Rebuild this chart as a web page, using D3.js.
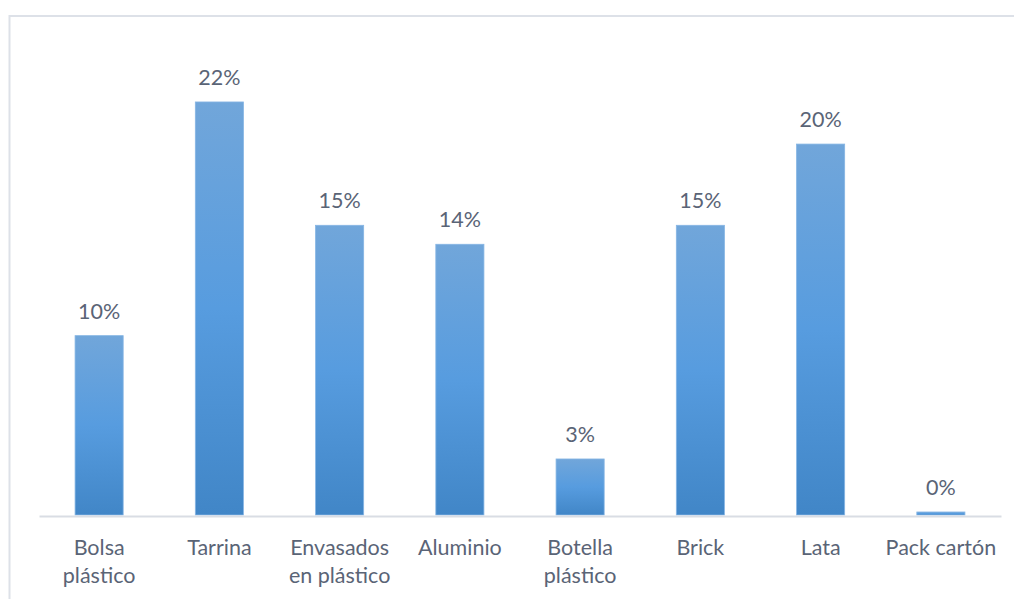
<!DOCTYPE html>
<html>
<head>
<meta charset="utf-8">
<script src="https://cdn.jsdelivr.net/npm/d3@7"></script>
<style>
  html, body { margin: 0; padding: 0; background: #ffffff; }
  svg { display: block; }
  text { font-family: Lato, "Open Sans", sans-serif; fill: #5a6476; }
</style>
</head>
<body>
<svg id="chart" width="1014" height="599"></svg>
<script>
// Share of each packaging type
const categories = [
  ["Bolsa", "plástico"],
  ["Tarrina"],
  ["Envasados", "en plástico"],
  ["Aluminio"],
  ["Botella", "plástico"],
  ["Brick"],
  ["Lata"],
  ["Pack cartón"]
];
const shares = [0.0954, 0.2197, 0.1541, 0.1440, 0.0298, 0.1541, 0.1973, 0.0016];

const svg = d3.select("#chart");
const W = 1014, H = 599;
const plot = { left: 39, right: 1001, top: 45, bottom: 515 };
const fontSize = 21.5;

// Outer chart frame (runs past the right and bottom edges)
svg.append("rect")
  .attr("x", 9.5).attr("y", 16)
  .attr("width", W + 20).attr("height", H + 20)
  .attr("fill", "none")
  .attr("stroke", "#dde1e8")
  .attr("stroke-width", 2);

// Vertical gradient for the bars
const defs = svg.append("defs");
const grad = defs.append("linearGradient")
  .attr("id", "barFill")
  .attr("x1", 0).attr("y1", 0).attr("x2", 0).attr("y2", 1);
grad.append("stop").attr("offset", "0%").attr("stop-color", "#71a6da");
grad.append("stop").attr("offset", "50%").attr("stop-color", "#579cdf");
grad.append("stop").attr("offset", "100%").attr("stop-color", "#4186c7");

const keys = categories.map(c => c.join(" "));

const x = d3.scaleBand()
  .domain(keys)
  .range([plot.left, plot.right])
  .paddingInner(0.6)
  .paddingOuter(0.3);

const y = d3.scaleLinear()
  .domain([0, 0.25])
  .range([plot.bottom, plot.top]);

const data = keys.map((k, i) => ({ key: k, lines: categories[i], value: shares[i] }));

// Bars
svg.append("g")
  .selectAll("rect")
  .data(data)
  .join("rect")
  .attr("x", d => x(d.key))
  .attr("y", d => y(d.value))
  .attr("width", x.bandwidth())
  .attr("height", d => y(0) - y(d.value))
  .attr("fill", "url(#barFill)")
  .attr("stroke", "#86b5e4")
  .attr("stroke-width", 0.8);

// Category axis line
const axis = d3.axisBottom(x).tickSize(0).tickFormat("");
const gAxis = svg.append("g")
  .attr("transform", `translate(0,${y(0) + 1})`)
  .call(axis);
gAxis.select(".domain")
  .attr("stroke", "#d9dde4")
  .attr("stroke-width", 2);

// Category labels (wrapped onto two lines where needed)
const labels = svg.append("g")
  .selectAll("text")
  .data(data)
  .join("text")
  .attr("text-anchor", "middle")
  .attr("font-size", fontSize)
  .attr("x", d => x(d.key) + x.bandwidth() / 2)
  .attr("y", 555);
labels.selectAll("tspan")
  .data(d => d.lines.map(l => ({ l, cx: x(d.key) + x.bandwidth() / 2 })))
  .join("tspan")
  .attr("x", t => t.cx)
  .attr("dy", (t, i) => i === 0 ? 0 : 27.5)
  .text(t => t.l);

// Value labels above each bar
const fmt = d3.format(".0%");
svg.append("g")
  .selectAll("text")
  .data(data)
  .join("text")
  .attr("text-anchor", "middle")
  .attr("font-size", fontSize)
  .attr("x", d => x(d.key) + x.bandwidth() / 2)
  .attr("y", d => y(d.value) - 17)
  .text(d => fmt(d.value));
</script>
</body>
</html>
